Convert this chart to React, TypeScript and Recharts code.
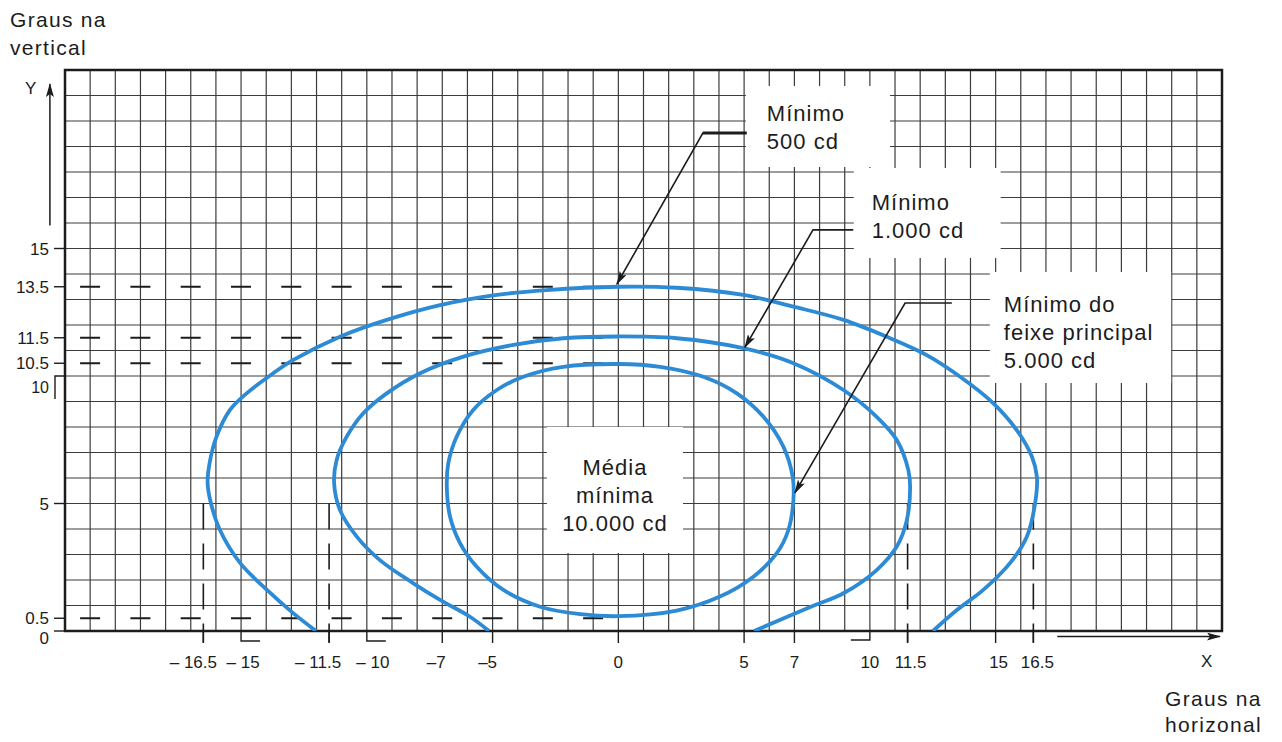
import React from 'react';
import { LineChart, Line, XAxis, YAxis, CartesianGrid, ReferenceLine, ReferenceArea } from 'recharts';

// isocandela curves (degrees)
const outer500X = [-12.02, -12.94, -13.97, -15.04, -15.84, -16.2, -16.33, -16.25, -15.98, -15.44, -14.78, -13.72, -12.92, -11.07, -9.21, -7.09, -4.83, -2.85, 0, 2.32, 4.97, 6.96, 8.95, 10.67, 12.26, 13.59, 14.91, 15.84, 16.44, 16.64, 16.57, 16.24, 15.57, 14.51, 13.46, 12.51];
const outer500Y = [0, 0.71, 1.61, 2.67, 3.96, 5.02, 5.8, 6.59, 7.61, 8.67, 9.32, 10.11, 10.63, 11.54, 12.2, 12.78, 13.18, 13.37, 13.5, 13.46, 13.18, 12.72, 12.2, 11.54, 10.82, 9.97, 8.93, 7.88, 6.84, 6.05, 5.01, 3.7, 2.66, 1.61, 0.82, 0];

const mid1000X = [-5.14, -5.9, -7.09, -8.15, -9.48, -10.4, -11.07, -11.3, -11.2, -10.8, -10.14, -9.21, -7.88, -6.16, -4.17, -2.19, 0, 2.32, 4.97, 6.96, 8.95, 10.27, 11.07, 11.53, 11.6, 11.47, 11.07, 10.27, 8.95, 7.63, 5.4];
const mid1000Y = [0, 0.56, 1.22, 1.87, 2.78, 3.7, 4.75, 5.79, 6.71, 7.62, 8.54, 9.32, 10.11, 10.76, 11.22, 11.48, 11.55, 11.48, 11.09, 10.5, 9.45, 8.4, 7.49, 6.31, 5.66, 4.35, 3.31, 2.39, 1.48, 0.94, 0];

const inner5000X = [0, -2.19, -3.78, -4.83, -5.77, -6.43, -6.76, -6.82, -6.69, -6.29, -5.63, -4.57, -3.11, -1.52, 0, 2.32, 4.04, 5.37, 6.3, 6.76, 6.96, 6.93, 6.56, 5.77, 4.71, 3.38, 1.66, 0];
const inner5000Y = [10.47, 10.36, 9.97, 9.45, 8.67, 7.62, 6.58, 5.66, 4.48, 3.44, 2.52, 1.61, 0.95, 0.66, 0.58, 0.8, 1.35, 2.13, 3.05, 3.96, 5.14, 6.05, 7.23, 8.4, 9.32, 9.97, 10.36, 10.47];

// leader lines: box end -> knee -> arrow tip
const leader500 = [{ x: 5.1, y: 19.53 }, { x: 3.36, y: 19.53 }, { x: -0.06, y: 13.6 }];
const leader1000 = [{ x: 9.34, y: 15.73 }, { x: 7.74, y: 15.73 }, { x: 5.03, y: 11.12 }];
const leader5000 = [{ x: 13.26, y: 12.86 }, { x: 11.4, y: 12.86 }, { x: 7.02, y: 5.42 }];

const xTicks = [-16.5, -15, -11.5, -10, -7, -5, 0, 5, 7, 10, 11.5, 15, 16.5];
const xTickLabels = ['– 16.5', '– 15', '– 11.5', '– 10', '–7', '–5', '0', '5', '7', '10', '11.5', '15', '16.5'];
const xTickLabelDx = [-10, 2, -11, 6, -6, -5, 0, 0, 0, 0, 3, 3, 4];
const yTicks = [0, 0.5, 5, 10, 10.5, 11.5, 13.5, 15];
const yTickLabels = ['0', '0.5', '5', '10', '10.5', '11.5', '13.5', '15'];

const dashedY = [13.5, 11.5, 10.5, 0.5];
const dashedX = [-16.5, -11.5, 11.5, 16.5];

const X_MIN = -22;
const X_MAX = 24;
const Y_MAX = 22;
const gridX = Array.from({ length: X_MAX - X_MIN + 1 }, (_, i) => X_MIN + i);
const gridY = Array.from({ length: Y_MAX + 1 }, (_, i) => i);

const boxes = [
  { x1: 5.07, x2: 10.8, y1: 18.2, y2: 21.37, lines: ['Mínimo', '500 cd'], dx: 21, dy: 35, align: 'start' },
  { x1: 9.36, x2: 15.2, y1: 14.63, y2: 18.16, lines: ['Mínimo', '1.000 cd'], dx: 18, dy: 42, align: 'start' },
  { x1: 14.77, x2: 21.98, y1: 9.73, y2: 14.08, lines: ['Mínimo do', 'feixe principal', '5.000 cd'], dx: 14, dy: 40, align: 'start' },
  { x1: -2.84, x2: 2.57, y1: 3.06, y2: 8.0, lines: ['Média', 'mínima', '10.000 cd'], dx: 0, dy: 48, align: 'middle' },
];

const toPoints = (xs: number[], ys: number[]) => xs.map((x, i) => ({ x, y: ys[i] }));
const outer500 = toPoints(outer500X, outer500Y);
const mid1000 = toPoints(mid1000X, mid1000Y);
const inner5000 = toPoints(inner5000X, inner5000Y);

const FONT = '"Liberation Sans", Arial, Helvetica, sans-serif';
const INK = '#1c1c1c';
const BLUE = '#2d8ad4';

// centripetal Catmull-Rom through the read points; wraps around when the path is closed
const smoothCurve = (context: any) => {
  let pts: number[][] = [];
  const dist = (a: number[], b: number[]) => Math.sqrt(Math.hypot(b[0] - a[0], b[1] - a[1]));
  const draw = () => {
    const n = pts.length;
    if (!n) return;
    context.moveTo(pts[0][0], pts[0][1]);
    if (n < 3) {
      if (n === 2) context.lineTo(pts[1][0], pts[1][1]);
      return;
    }
    const closed = Math.abs(pts[0][0] - pts[n - 1][0]) < 1e-6 && Math.abs(pts[0][1] - pts[n - 1][1]) < 1e-6;
    for (let i = 0; i < n - 1; i++) {
      const p1 = pts[i];
      const p2 = pts[i + 1];
      const p0 = i > 0 ? pts[i - 1] : closed ? pts[n - 2] : null;
      const p3 = i + 2 < n ? pts[i + 2] : closed ? pts[1] : null;
      const l12 = dist(p1, p2);
      const l12sq = l12 * l12;
      let c1 = p1;
      let c2 = p2;
      if (p0) {
        const l01 = dist(p0, p1);
        if (l01 > 1e-6) {
          const l01sq = l01 * l01;
          const a = 2 * l01sq + 3 * l01 * l12 + l12sq;
          const m = 3 * l01 * (l01 + l12);
          c1 = [(p1[0] * a - p0[0] * l12sq + p2[0] * l01sq) / m, (p1[1] * a - p0[1] * l12sq + p2[1] * l01sq) / m];
        }
      }
      if (p3) {
        const l23 = dist(p2, p3);
        if (l23 > 1e-6) {
          const l23sq = l23 * l23;
          const b = 2 * l23sq + 3 * l23 * l12 + l12sq;
          const m = 3 * l23 * (l23 + l12);
          c2 = [(p2[0] * b + p1[0] * l23sq - p3[0] * l12sq) / m, (p2[1] * b + p1[1] * l23sq - p3[1] * l12sq) / m];
        }
      }
      context.bezierCurveTo(c1[0], c1[1], c2[0], c2[1], p2[0], p2[1]);
    }
  };
  return {
    areaStart() {},
    areaEnd() {},
    lineStart() { pts = []; },
    point(x: number, y: number) { pts.push([+x, +y]); },
    lineEnd() { draw(); },
  };
};

const XTick = (props: any) => {
  const { x, y, payload } = props;
  const v = payload.value;
  const idx = xTicks.indexOf(v);
  const label = idx >= 0 ? xTickLabels[idx] : String(v);
  const dx = idx >= 0 ? xTickLabelDx[idx] : 0;
  let mark;
  if (v === -15 || v === -10) mark = <path d={`M${x},${y} V${y + 10} H${x + 19}`} fill="none" stroke={INK} strokeWidth={1.4} />;
  else if (v === 10) mark = <path d={`M${x},${y} V${y + 9} H${x - 19}`} fill="none" stroke={INK} strokeWidth={1.4} />;
  else mark = <line x1={x} y1={y} x2={x} y2={y + 12} stroke={INK} strokeWidth={1.4} />;
  return (
    <g>
      {mark}
      <text x={x + dx} y={y + 37} textAnchor="middle" fontSize={17} fontFamily={FONT} fill={INK}>{label}</text>
    </g>
  );
};

const YTick = (props: any) => {
  const { x, y, payload } = props;
  const v = payload.value;
  const idx = yTicks.indexOf(v);
  const label = idx >= 0 ? yTickLabels[idx] : String(v);
  const shift = v === 0 ? 7 : v === 10 ? 11 : 0;
  return (
    <g>
      {v === 10
        ? <path d={`M${x},${y} H${x - 10} V${y + 23}`} fill="none" stroke={INK} strokeWidth={1.4} />
        : <line x1={x - 11} y1={y} x2={x} y2={y} stroke={INK} strokeWidth={1.4} />}
      <text x={x - 16} y={y + shift} dy="0.36em" textAnchor="end" fontSize={v === 10 ? 16 : 17} fontFamily={FONT} fill={INK}>{label}</text>
    </g>
  );
};

const boxLabel = (b: typeof boxes[number]) => (props: any) => {
  const vb = props.viewBox || {};
  const tx = b.align === 'middle' ? vb.x + vb.width / 2 : vb.x + b.dx;
  return (
    <g>
      {b.lines.map((line, i) => (
        <text key={i} x={tx} y={vb.y + b.dy + i * 28} textAnchor={b.align} fontSize={22} letterSpacing={1} fontFamily={FONT} fill={INK}>
          {line}
        </text>
      ))}
    </g>
  );
};

const textStyle: React.CSSProperties = {
  position: 'absolute',
  fontFamily: FONT,
  color: INK,
  whiteSpace: 'nowrap',
};

const App: React.FC = () => {
  return (
    <div style={{ position: 'relative', width: 1266, height: 726, background: '#fff' }}>
      <LineChart width={1266} height={726} margin={{ top: 62, right: 52, left: 0, bottom: 63 }}>
        <defs>
          <marker id="arrowHead" viewBox="0 0 14 8" refX="13" refY="4" markerWidth="14" markerHeight="8" markerUnits="userSpaceOnUse" orient="auto">
            <path d="M0,0 L14,4 L0,8 L3,4 z" fill={INK} />
          </marker>
        </defs>
        <CartesianGrid
          stroke="#3c3c3c"
          strokeWidth={1.2}
          verticalCoordinatesGenerator={({ xAxis, offset }: any) =>
            gridX.map((v) => (xAxis && typeof xAxis.scale === 'function' ? xAxis.scale(v) : offset.left + ((v - X_MIN) / (X_MAX - X_MIN)) * offset.width))
          }
          horizontalCoordinatesGenerator={({ yAxis, offset }: any) =>
            gridY.map((v) => (yAxis && typeof yAxis.scale === 'function' ? yAxis.scale(v) : offset.top + ((Y_MAX - v) / Y_MAX) * offset.height))
          }
        />
        <XAxis
          dataKey="x"
          type="number"
          domain={[X_MIN, X_MAX]}
          allowDataOverflow
          ticks={xTicks}
          interval={0}
          axisLine={false}
          tickLine={false}
          tickSize={0}
          tickMargin={0}
          height={40}
          tick={<XTick />}
        />
        <YAxis
          dataKey="y"
          type="number"
          domain={[0, Y_MAX]}
          allowDataOverflow
          ticks={yTicks}
          interval={0}
          axisLine={false}
          tickLine={false}
          tickSize={0}
          tickMargin={0}
          width={57}
          tick={<YTick />}
        />

        {boxes.map((b, i) => (
          <ReferenceArea key={`box-${i}`} x1={b.x1} x2={b.x2} y1={b.y1} y2={b.y2} fill="#fff" fillOpacity={1} stroke="none" ifOverflow="visible" label={boxLabel(b)} />
        ))}

        {dashedY.map((v) => (
          <ReferenceLine key={`dy-${v}`} segment={[{ x: -21.4, y: v }, { x: -0.6, y: v }]} stroke={INK} strokeWidth={1.8} strokeDasharray="20 30.3" ifOverflow="visible" />
        ))}
        {dashedX.map((v) => (
          <ReferenceLine key={`dx-${v}`} segment={[{ x: v, y: 5 }, { x: v, y: -0.45 }]} stroke={INK} strokeWidth={1.6} strokeDasharray="26 14" ifOverflow="visible" />
        ))}

        <ReferenceArea x1={X_MIN} x2={X_MAX} y1={0} y2={Y_MAX} fill="none" stroke={INK} strokeWidth={2.5} ifOverflow="visible" />

        <ReferenceLine segment={[{ x: -22.6, y: 15.9 }, { x: -22.6, y: 21.45 }]} stroke={INK} strokeWidth={1.5} markerEnd="url(#arrowHead)" ifOverflow="visible" />
        <ReferenceLine segment={[{ x: 17.45, y: -0.22 }, { x: 23.92, y: -0.22 }]} stroke={INK} strokeWidth={1.5} markerEnd="url(#arrowHead)" ifOverflow="visible" />
        <ReferenceLine segment={[{ x: 5.1, y: 19.53 }, { x: 3.36, y: 19.53 }]} stroke={INK} strokeWidth={3} ifOverflow="visible" />

        <Line data={outer500} dataKey="y" type={smoothCurve as any} stroke={BLUE} strokeWidth={3.8} dot={false} activeDot={false} isAnimationActive={false} />
        <Line data={mid1000} dataKey="y" type={smoothCurve as any} stroke={BLUE} strokeWidth={3.8} dot={false} activeDot={false} isAnimationActive={false} />
        <Line data={inner5000} dataKey="y" type={smoothCurve as any} stroke={BLUE} strokeWidth={3.8} dot={false} activeDot={false} isAnimationActive={false} />

        <Line data={leader500} dataKey="y" type="linear" stroke={INK} strokeWidth={1.6} dot={false} activeDot={false} markerEnd="url(#arrowHead)" isAnimationActive={false} />
        <Line data={leader1000} dataKey="y" type="linear" stroke={INK} strokeWidth={1.6} dot={false} activeDot={false} markerEnd="url(#arrowHead)" isAnimationActive={false} />
        <Line data={leader5000} dataKey="y" type="linear" stroke={INK} strokeWidth={1.6} dot={false} activeDot={false} markerEnd="url(#arrowHead)" isAnimationActive={false} />
      </LineChart>

      <div style={{ ...textStyle, left: 2, top: -2, fontSize: 21, lineHeight: '28px', letterSpacing: 1.3 }}>
        Graus na<br />vertical
      </div>
      <div style={{ ...textStyle, left: 17, top: 71, fontSize: 17 }}>Y</div>
      <div style={{ ...textStyle, left: 1193, top: 644, fontSize: 17 }}>X</div>
      <div style={{ ...textStyle, left: 1157, top: 678, fontSize: 21, lineHeight: '26px', letterSpacing: 1.3 }}>
        Graus na<br />horizonal
      </div>
    </div>
  );
};

export default App;
